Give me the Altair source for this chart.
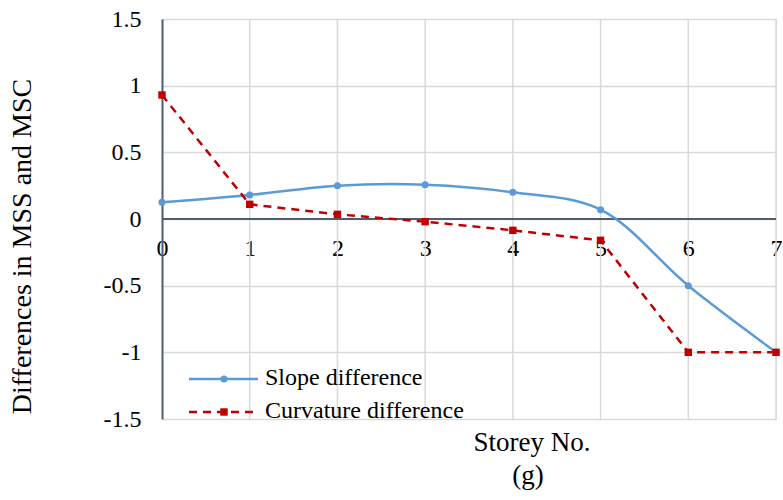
import altair as alt
import pandas as pd

# ---- data ----
storey = [0, 1, 2, 3, 4, 5, 6, 7]
slope_diff = [0.125, 0.18, 0.25, 0.257, 0.2, 0.07, -0.5, -1.0]
curv_diff = [0.93, 0.11, 0.035, -0.02, -0.085, -0.16, -1.0, -1.0]
series_names = ["Slope difference", "Curvature difference"]
x_ticks = [0, 1, 2, 3, 4, 5, 6, 7]
y_ticks = [-1.5, -1, -0.5, 0, 0.5, 1, 1.5]
x_title = "Storey No."
y_title = "Differences in MSS and MSC"
caption = "(g)"

FONT = "Liberation Serif, Times New Roman, serif"
BLUE = "#5B9BD5"
RED = "#C00000"
AXIS = "#505d6f"
GRID = "#d9d9d9"

df_s = pd.DataFrame({"storey": storey, "value": slope_diff})
df_c = pd.DataFrame({"storey": storey, "value": curv_diff})
grid_df = pd.DataFrame({"tick": [t for t in x_ticks if t != 0]})
zero_df = pd.DataFrame({"y": [0]})

W, H = 614, 400

x_scale = alt.Scale(domain=[0, 7], nice=False, zero=False)
y_scale = alt.Scale(domain=[-1.5, 1.5], nice=False, zero=False)

x_axis = alt.Axis(
    values=x_ticks, offset=-200, title=None, domain=False, grid=False, ticks=False,
    labelFont=FONT, labelFontSize=24, labelColor="black", labelPadding=17,
    labelFlush=False, labelOverlap=False, labelBound=False,
    labelExpr="datum.value + ''",
)
y_axis = alt.Axis(
    values=y_ticks, title=y_title, domain=True, domainColor=AXIS, domainWidth=2,
    grid=True, gridColor=GRID, gridWidth=1.5, ticks=False,
    labelFont=FONT, labelFontSize=24, labelColor="black", labelPadding=21,
    labelFlush=False, labelOverlap=False, labelBound=False,
    labelExpr="datum.value + ''",
    titleFont=FONT, titleFontSize=28, titleFontWeight="normal", titleColor="black",
    titleX=-140, titleY=227, titleAngle=270, titleAlign="center", titleBaseline="middle",
)

grid = alt.Chart(grid_df).mark_rule(color=GRID, strokeWidth=1.5).encode(
    x=alt.X("tick:Q", scale=x_scale, axis=x_axis)
)
zero = alt.Chart(zero_df).mark_rule(color=AXIS, strokeWidth=2).encode(
    y=alt.Y("y:Q", scale=y_scale, axis=y_axis)
)

slope_line = alt.Chart(df_s).mark_line(
    color=BLUE, strokeWidth=2.5, interpolate="catmull-rom"
).encode(x=alt.X("storey:Q", scale=x_scale), y=alt.Y("value:Q", scale=y_scale))
slope_pts = alt.Chart(df_s).mark_point(
    shape="circle", filled=True, color=BLUE, size=50, opacity=1
).encode(x=alt.X("storey:Q", scale=x_scale), y=alt.Y("value:Q", scale=y_scale))

curv_line = alt.Chart(df_c).mark_line(
    color=RED, strokeWidth=2.5, strokeDash=[8, 6]
).encode(x=alt.X("storey:Q", scale=x_scale), y=alt.Y("value:Q", scale=y_scale))
curv_pts = alt.Chart(df_c).mark_point(
    shape="square", filled=True, color=RED, size=55, opacity=1
).encode(x=alt.X("storey:Q", scale=x_scale), y=alt.Y("value:Q", scale=y_scale))

# ---- legend (inside plot, bottom left) ----
leg_s = pd.DataFrame({"label": [series_names[0]]})
leg_c = pd.DataFrame({"label": [series_names[1]]})

leg_s_line = alt.Chart(leg_s).mark_rule(color=BLUE, strokeWidth=2.5).encode(
    x=alt.value(27), x2=alt.value(96), y=alt.value(360))
leg_s_pt = alt.Chart(leg_s).mark_point(shape="circle", filled=True, color=BLUE, size=50, opacity=1).encode(
    x=alt.value(62), y=alt.value(360))
leg_s_txt = alt.Chart(leg_s).mark_text(font=FONT, fontSize=24, align="left", baseline="middle", color="black").encode(
    x=alt.value(103), y=alt.value(359), text="label:N")

leg_c_line = alt.Chart(leg_c).mark_rule(color=RED, strokeWidth=2.5, strokeDash=[8, 6]).encode(
    x=alt.value(27), x2=alt.value(95), y=alt.value(393))
leg_c_pt = alt.Chart(leg_c).mark_point(shape="square", filled=True, color=RED, size=55, opacity=1).encode(
    x=alt.value(62), y=alt.value(393))
leg_c_txt = alt.Chart(leg_c).mark_text(font=FONT, fontSize=24, align="left", baseline="middle", color="black").encode(
    x=alt.value(103), y=alt.value(392), text="label:N")

# ---- x title and caption below the plot ----
xt = alt.Chart(pd.DataFrame({"t": [x_title]})).mark_text(
    font=FONT, fontSize=27, align="center", baseline="middle", color="black"
).encode(x=alt.value(370), y=alt.value(424), text="t:N")
cap = alt.Chart(pd.DataFrame({"t": [caption]})).mark_text(
    font=FONT, fontSize=27, align="center", baseline="middle", color="black"
).encode(x=alt.value(366), y=alt.value(457), text="t:N")

chart = alt.layer(
    grid, zero, slope_line, curv_line, slope_pts, curv_pts,
    leg_s_line, leg_s_pt, leg_s_txt, leg_c_line, leg_c_pt, leg_c_txt, xt, cap,
).properties(
    width=W, height=H,
    autosize=alt.AutoSizeParams(type="none"),
    padding={"left": 162, "top": 19, "right": 7, "bottom": 81},
).configure_view(stroke=None).configure(background="white")

chart.save("out.html", embed_options={"renderer": "svg", "actions": False})
